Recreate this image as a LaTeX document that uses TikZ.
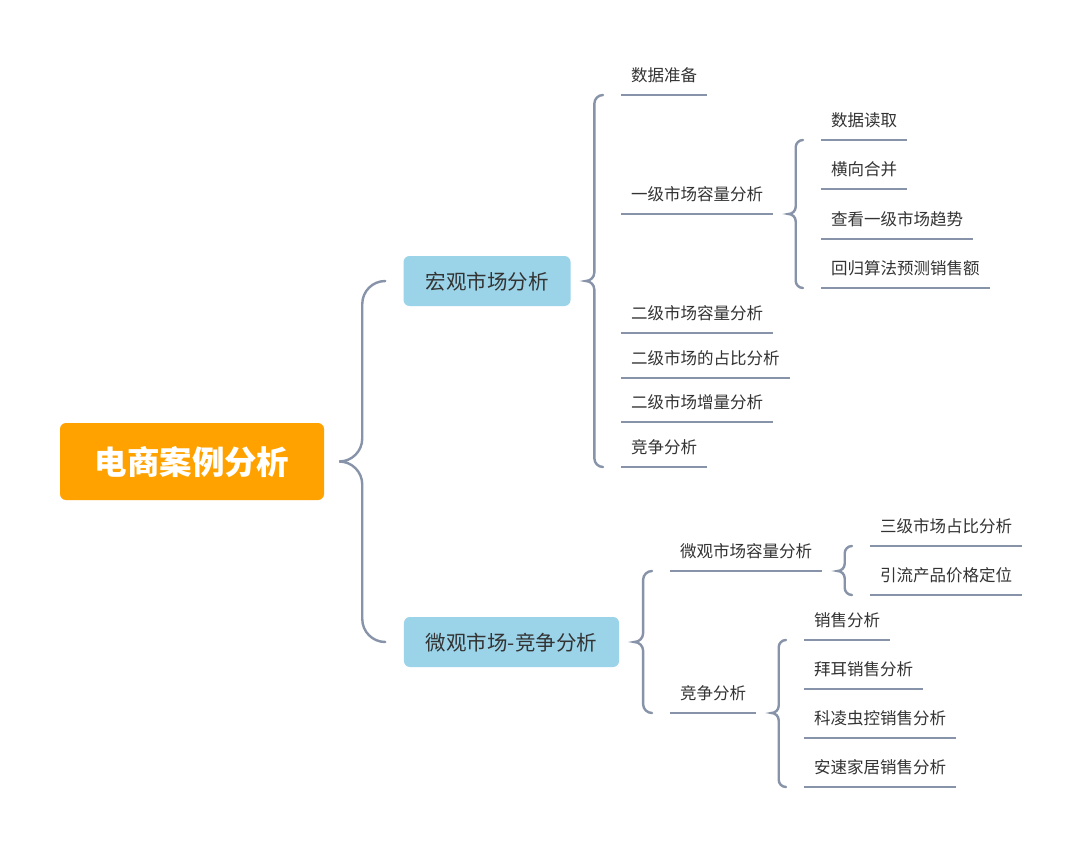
\documentclass[tikz,border=0pt]{standalone}
\usepackage{fontspec}
\setmainfont{Noto Sans CJK SC}
\usetikzlibrary{calc}
\definecolor{linec}{HTML}{8793A8}
\definecolor{rootc}{HTML}{FFA200}
\definecolor{bluec}{HTML}{9BD4E8}
\definecolor{textc}{HTML}{333333}
\tikzset{
  conn/.style={draw=linec, line width=2.4pt, line cap=round},
  uline/.style={draw=linec, line width=2.4pt},
  rootbox/.style={fill=rootc, rounded corners=6pt, minimum width=264pt, minimum height=77pt,
    inner sep=0pt, text=white, font=\fontsize{32.5}{32.5}\selectfont\bfseries, text height=25pt, text depth=0pt},
  midbox/.style={fill=bluec, rounded corners=6pt, minimum height=50pt, inner xsep=22pt, inner ysep=0pt,
    text=textc, font=\fontsize{20.5}{20.5}\selectfont, text height=16pt, text depth=0pt},
  leaf/.style={anchor=south west, inner xsep=10pt, inner ysep=0pt, text=textc,
    font=\fontsize{16.5}{16.5}\selectfont, text height=15pt, text depth=13pt,
    append after command={(\tikzlastnode.south west) edge[uline] (\tikzlastnode.south east)}}
}
% #1 parent anchor, #2 first child anchor, #3 last child anchor
\newcommand\mybracket[3]{%
  \draw[conn] let \p1=(#1), \p2=(#2), \p3=(#3),
    \n1={\x1+15pt}, \n2={\x2-18pt}, \n3={(\n2-\n1)/2}, \n4={\n1+\n3} in
    ({\n2*1pt},\y2) to[out=180,in=90] ({\n4*1pt},{\y2-\n3*1pt})
    -- ({\n4*1pt},{\y1+\n3*1pt}) to[out=-90,in=0] ({\n1*1pt},\y1)
    to[out=0,in=90] ({\n4*1pt},{\y1-\n3*1pt})
    -- ({\n4*1pt},{\y3+\n3*1pt}) to[out=-90,in=180] ({\n2*1pt},\y3);}
\begin{document}
\begin{tikzpicture}[x=1pt,y=-1pt]
\fill[white] (0,0) rectangle (1080,848);
\node[rootbox] (root) at (192,461.5) {电商案例分析};
\node[midbox] (macro) at (487,281) {宏观市场分析};
\node[midbox] (micro) at (511.5,642) {微观市场-竞争分析};

\node[leaf] (a1) at (621,95) {数据准备};
\node[leaf] (a2) at (621,214) {一级市场容量分析};
\node[leaf] (a3) at (621,333) {二级市场容量分析};
\node[leaf] (a4) at (621,378) {二级市场的占比分析};
\node[leaf] (a5) at (621,422) {二级市场增量分析};
\node[leaf] (a6) at (621,467) {竞争分析};

\node[leaf] (b1) at (821,140) {数据读取};
\node[leaf] (b2) at (821,189) {横向合并};
\node[leaf] (b3) at (821,239) {查看一级市场趋势};
\node[leaf] (b4) at (821,288) {回归算法预测销售额};

\node[leaf] (c1) at (670,571) {微观市场容量分析};
\node[leaf] (c2) at (670,713) {竞争分析};

\node[leaf] (d1) at (870,546) {三级市场占比分析};
\node[leaf] (d2) at (870,595) {引流产品价格定位};

\node[leaf] (e1) at (804,640) {销售分析};
\node[leaf] (e2) at (804,689) {拜耳销售分析};
\node[leaf] (e3) at (804,738) {科凌虫控销售分析};
\node[leaf] (e4) at (804,787) {安速家居销售分析};

\mybracket{root.east}{macro.west}{micro.west}
\mybracket{macro.east}{a1.south west}{a6.south west}
\mybracket{a2.south east}{b1.south west}{b4.south west}
\mybracket{micro.east}{c1.south west}{c2.south west}
\mybracket{c1.south east}{d1.south west}{d2.south west}
\mybracket{c2.south east}{e1.south west}{e4.south west}
\end{tikzpicture}
\end{document}
